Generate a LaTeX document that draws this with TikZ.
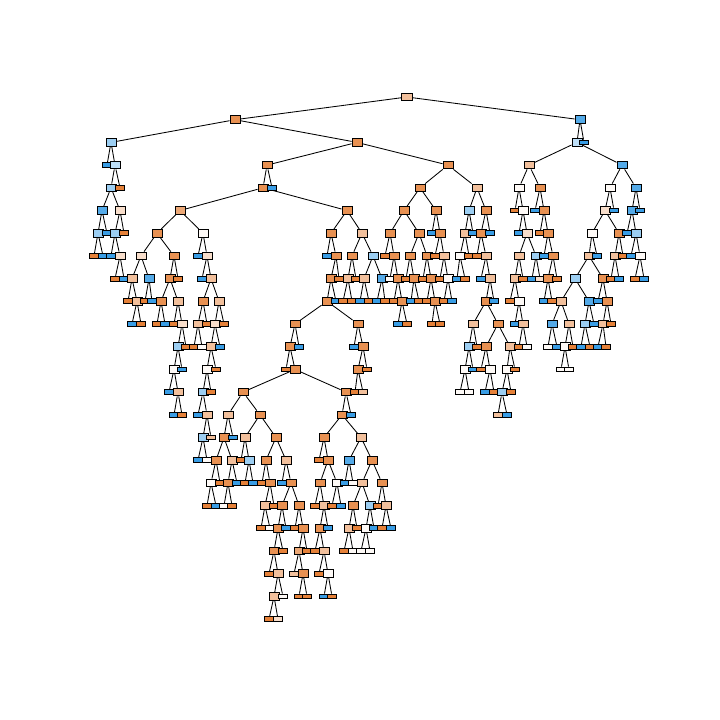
\documentclass[tikz,border=0pt]{standalone}
\usetikzlibrary{backgrounds}
\definecolor{cOR}{RGB}{229,129,57}
\definecolor{cO}{RGB}{232,145,82}
\definecolor{cOb}{RGB}{236,168,118}
\definecolor{cP}{RGB}{242,192,156}
\definecolor{cLP}{RGB}{248,222,203}
\definecolor{cW}{RGB}{254,250,247}
\definecolor{cLB}{RGB}{156,206,242}
\definecolor{cLBb}{RGB}{190,223,247}
\definecolor{cBi}{RGB}{84,170,232}
\definecolor{cB}{RGB}{57,157,229}
\tikzset{
  box/.style={rectangle, draw=black, line width=0.9pt, inner sep=0pt},
  ty i/.style={box, minimum width=10pt, minimum height=7.6pt},
  ty l/.style={box, minimum width=8.6pt, minimum height=4.8pt},
  edge/.style={draw=black, line width=0.85pt},
}
% every non-root node: level / x / parent x / fill / kind (i = split, l = leaf)
\def\treelist{
1/235/407/O/i, 1/580/407/Bi/i,
2/111/235/LB/i, 2/357/235/O/i, 2/577/580/LBb/i, 2/584/580/B/l,
3/107/111/B/l, 3/115/111/LBb/i, 3/267/357/O/i, 3/448/357/O/i, 3/529/577/P/i, 3/622/577/Bi/i,
4/111/115/LB/i, 4/120/115/OR/l, 4/263/267/O/i, 4/272/267/B/l, 4/420/448/O/i, 4/477/448/P/i, 4/519/529/W/i, 4/540/529/O/i, 4/610/622/W/i, 4/636/622/Bi/i,
5/102/111/Bi/i, 5/120/111/LP/i, 5/180/263/Ob/i, 5/347/263/O/i, 5/404/420/O/i, 5/436/420/O/i, 5/469/477/LB/i, 5/486/477/O/i, 5/515/519/OR/l, 5/523/519/W/i, 5/535/540/B/l, 5/544/540/O/i, 5/605/610/LP/i, 5/614/610/B/l, 5/632/636/Bi/i, 5/640/636/B/l,
6/98/102/LB/i, 6/107/102/B/l, 6/115/120/LB/i, 6/124/120/OR/l, 6/157/180/O/i, 6/203/180/W/i, 6/331/347/O/i, 6/362/347/P/i, 6/390/404/O/i, 6/419/404/O/i, 6/432/436/B/l, 6/440/436/O/i, 6/465/469/P/i, 6/473/469/B/l, 6/481/486/O/i, 6/490/486/B/l, 6/519/523/B/l, 6/527/523/LP/i, 6/540/544/OR/l, 6/548/544/O/i, 6/592/605/W/i, 6/619/605/O/i, 6/627/632/B/l, 6/636/632/LB/i,
7/94/98/OR/l, 7/103/98/B/l, 7/111/115/B/l, 7/120/115/LP/i, 7/141/157/LP/i, 7/174/157/O/i, 7/198/203/B/l, 7/207/203/LP/i, 7/327/331/B/l, 7/336/331/O/i, 7/352/362/O/i, 7/373/362/LB/i, 7/385/390/OR/l, 7/394/390/O/i, 7/410/419/O/i, 7/427/419/O/i, 7/435/440/OR/l, 7/444/440/P/i, 7/460/465/W/i, 7/469/465/OR/l, 7/477/481/OR/l, 7/486/481/P/i, 7/519/527/P/i, 7/536/527/LB/i, 7/544/548/B/l, 7/553/548/O/i, 7/589/592/P/i, 7/597/592/B/l, 7/615/619/P/i, 7/623/619/OR/l, 7/631/636/B/l, 7/640/636/W/i,
8/115/120/OR/l, 8/124/120/B/l, 8/132/141/P/i, 8/149/141/Bi/i, 8/170/174/O/i, 8/178/174/OR/l, 8/202/207/B/l, 8/211/207/P/i, 8/331/336/O/i, 8/339/336/OR/l, 8/348/352/P/i, 8/356/352/OR/l, 8/364/373/P/i, 8/382/373/Bi/i, 8/390/394/W/l, 8/398/394/O/i, 8/406/410/OR/l, 8/414/410/O/i, 8/423/427/OR/l, 8/431/427/O/i, 8/440/444/OR/l, 8/448/444/W/i, 8/457/460/B/l, 8/465/460/OR/l, 8/481/486/B/l, 8/490/486/P/i, 8/515/519/P/i, 8/523/519/OR/l, 8/532/536/B/l, 8/540/536/LP/l, 8/548/553/O/i, 8/557/553/OR/l, 8/575/589/LB/i, 8/603/589/O/i, 8/611/615/OR/l, 8/619/615/B/l, 8/635/640/OR/l, 8/644/640/B/l,
9/128/132/OR/l, 9/137/132/P/i, 9/145/149/OR/l, 9/152/149/B/l, 9/161/170/O/i, 9/178/170/P/i, 9/203/211/O/i, 9/219/211/P/i, 9/327/331/O/i, 9/336/331/B/l, 9/343/348/OR/l, 9/352/348/OR/l, 9/360/364/B/l, 9/369/364/OR/l, 9/377/382/B/l, 9/385/382/OR/l, 9/394/398/OR/l, 9/402/398/O/i, 9/411/414/B/l, 9/419/414/OR/l, 9/427/431/OR/l, 9/435/431/O/i, 9/444/448/OR/l, 9/452/448/B/l, 9/486/490/O/i, 9/494/490/B/l, 9/510/515/OR/l, 9/519/515/W/i, 9/544/548/B/l, 9/552/548/OR/l, 9/561/575/P/i, 9/589/575/Bi/i, 9/598/603/B/l, 9/607/603/O/i,
10/132/137/B/l, 10/141/137/OR/l, 10/157/161/OR/l, 10/165/161/B/l, 10/174/178/OR/l, 10/182/178/LP/i, 10/198/203/P/i, 10/207/203/OR/l, 10/215/219/LP/i, 10/224/219/OR/l, 10/295/327/O/i, 10/358/327/O/i, 10/398/402/B/l, 10/407/402/OR/l, 10/432/435/OR/l, 10/440/435/OR/l, 10/473/486/P/i, 10/498/486/O/i, 10/515/519/B/l, 10/523/519/P/i, 10/552/561/Bi/i, 10/569/561/P/i, 10/585/589/LB/i, 10/594/589/B/l, 10/603/607/P/i, 10/611/607/OR/l,
11/178/182/LB/i, 11/186/182/OR/l, 11/194/198/OR/l, 11/202/198/W/l, 11/211/215/P/i, 11/220/215/B/l, 11/290/295/O/i, 11/299/295/B/l, 11/354/358/B/l, 11/363/358/O/i, 11/469/473/LB/i, 11/477/473/OR/l, 11/486/498/O/i, 11/510/498/P/i, 11/519/523/OR/l, 11/527/523/W/l, 11/548/552/W/l, 11/557/552/B/l, 11/565/569/W/i, 11/573/569/OR/l, 11/581/585/B/l, 11/590/585/OR/l, 11/598/603/B/l, 11/606/603/OR/l,
12/174/178/W/i, 12/182/178/B/l, 12/207/211/W/i, 12/216/211/OR/l, 12/286/290/OR/l, 12/295/290/O/i, 12/358/363/O/i, 12/367/363/OR/l, 12/465/469/W/i, 12/473/469/B/l, 12/481/486/OR/l, 12/490/486/W/i, 12/507/510/W/i, 12/515/510/OR/l, 12/561/565/W/l, 12/569/565/W/l,
13/169/174/B/l, 13/178/174/P/i, 13/203/207/LB/i, 13/211/207/OR/l, 13/243/295/O/i, 13/346/295/O/i, 13/355/358/OR/l, 13/363/358/P/l, 13/460/465/W/l, 13/469/465/W/l, 13/485/490/B/l, 13/494/490/OR/l, 13/502/507/LB/i, 13/511/507/OR/l,
14/174/178/B/l, 14/182/178/OR/l, 14/198/203/B/l, 14/207/203/P/i, 14/228/243/P/i, 14/260/243/O/i, 14/342/346/O/i, 14/351/346/B/l, 14/498/502/P/l, 14/507/502/B/l,
15/203/207/LB/i, 15/211/207/P/l, 15/224/228/O/i, 15/233/228/B/l, 15/245/260/P/i, 15/276/260/O/i, 15/324/342/O/i, 15/361/342/P/i,
16/198/203/B/l, 16/207/203/W/l, 16/216/224/O/i, 16/232/224/P/i, 16/241/245/OR/l, 16/249/245/LB/i, 16/266/276/O/i, 16/286/276/P/i, 16/319/324/OR/l, 16/328/324/O/i, 16/349/361/Bi/i, 16/372/361/O/i,
17/211/216/W/i, 17/220/216/OR/l, 17/228/232/O/i, 17/237/232/B/l, 17/245/249/OR/l, 17/253/249/B/l, 17/262/266/OR/l, 17/270/266/O/i, 17/282/286/B/l, 17/291/286/O/i, 17/320/328/O/i, 17/337/328/W/i, 17/345/349/B/l, 17/353/349/W/l, 17/362/372/P/i, 17/382/372/O/i,
18/207/211/OR/l, 18/216/211/B/l, 18/224/228/W/l, 18/232/228/OR/l, 18/265/270/P/i, 18/274/270/OR/l, 18/282/291/O/i, 18/299/291/O/i, 18/315/320/OR/l, 18/324/320/P/i, 18/332/337/OR/l, 18/341/337/B/l, 18/353/362/O/i, 18/370/362/LB/i, 18/378/382/OR/l, 18/386/382/P/i,
19/261/265/OR/l, 19/270/265/W/l, 19/278/282/O/i, 19/286/282/B/l, 19/295/299/OR/l, 19/303/299/O/i, 19/320/324/O/i, 19/328/324/B/l, 19/349/353/P/i, 19/357/353/OR/l, 19/366/370/W/i, 19/374/370/B/l, 19/382/386/OR/l, 19/391/386/B/l,
20/274/278/O/i, 20/283/278/OR/l, 20/299/303/Ob/i, 20/307/303/OR/l, 20/315/320/OR/l, 20/324/320/P/i, 20/344/349/OR/l, 20/353/349/W/l, 20/361/366/W/l, 20/370/366/W/l,
21/269/274/OR/l, 21/278/274/P/i, 21/294/299/P/l, 21/303/299/O/i, 21/319/324/OR/l, 21/328/324/W/i,
22/274/278/P/i, 22/283/278/W/l, 22/299/303/OR/l, 22/307/303/OR/l, 22/324/328/B/l, 22/332/328/OR/l,
23/269/274/OR/l, 23/278/274/LP/l}
\begin{document}
\begin{tikzpicture}[x=1pt,y=-1pt]
\useasboundingbox (0,0) rectangle (720,720);
% root of the tree
\node[ty i, minimum width=11.5pt, fill=cP] (n0x407) at (407,97) {};
% boxes, level by level
\foreach \Lv/\Xp/\Pp/\Col/\Typ in \treelist {
  \node[ty \Typ, fill=c\Col] (n\Lv x\Xp) at (\Xp,{97+22.7*\Lv}) {};
}
% connectors from each box up to its parent, kept behind the boxes
\begin{scope}[on background layer]
  \fill[white] (0,0) rectangle (720,720);
  \foreach \Lv/\Xp/\Pp/\Col/\Typ in \treelist {
    \pgfmathtruncatemacro\Lp{\Lv-1}
    \draw[edge] (n\Lp x\Pp) -- (n\Lv x\Xp);
  }
\end{scope}
\end{tikzpicture}
\end{document}
